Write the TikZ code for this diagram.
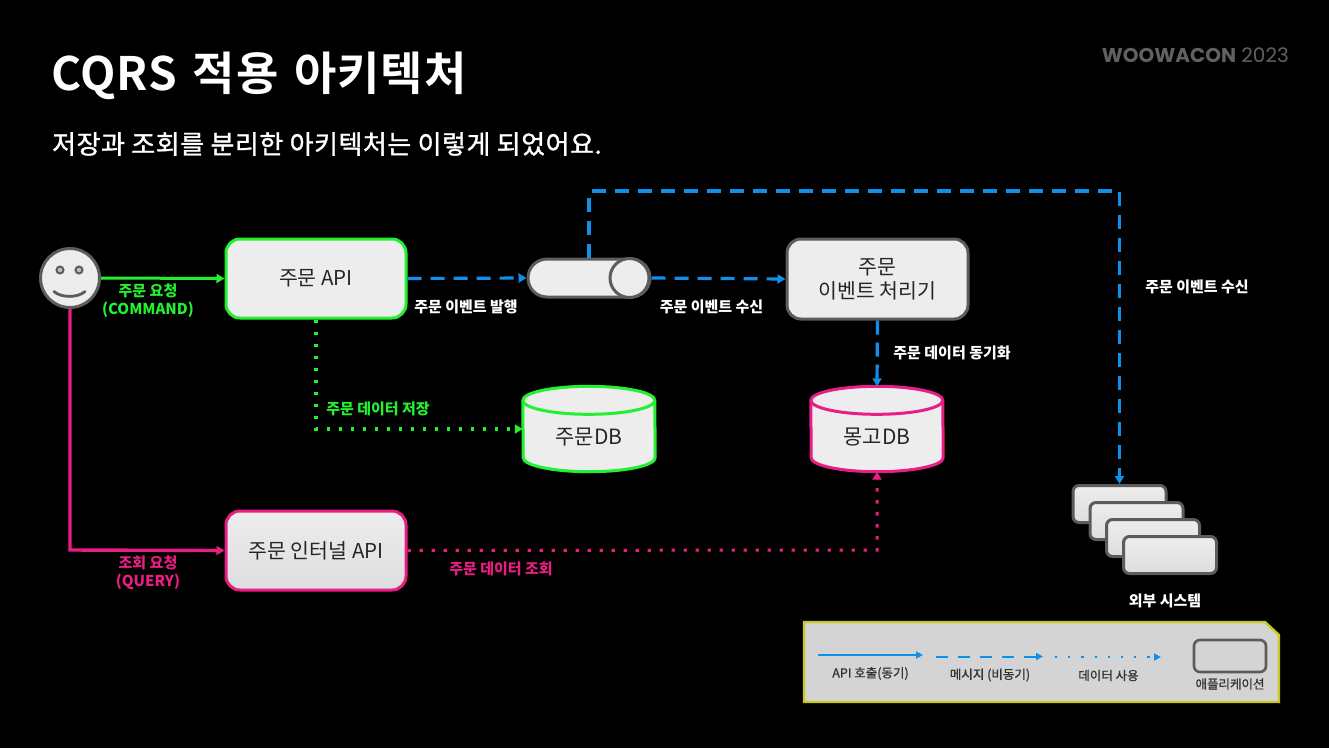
\documentclass[tikz,border=0pt]{standalone}
\usepackage{fontspec}
\setmainfont{Noto Sans CJK KR}
\newfontfamily\subfont[FakeBold=1.2,LetterSpace=2]{Noto Sans CJK KR}
\newfontfamily\legfont[FakeBold=0.8]{Noto Sans CJK KR}
\newfontfamily\titlefont[LetterSpace=2,WordSpace=1.4]{Noto Sans CJK KR Bold}
\newfontfamily\brandfont{Poppins}
\usetikzlibrary{arrows.meta,calc,shapes.misc}
\definecolor{cgreen}{HTML}{22F030}
\definecolor{cpink}{HTML}{E81E82}
\definecolor{cblue}{HTML}{1090E8}
\definecolor{cgray}{HTML}{5C5C5C}
\definecolor{cfill}{HTML}{EDEDED}
\definecolor{cyellow}{HTML}{C8C81E}
\tikzset{
  tip/.style={-{Triangle[length=8pt,width=9pt]}},
  appbox/.style={draw=#1,fill=cfill,line width=3pt,rounded corners=14pt,inner sep=0pt,align=center,font=\fontsize{20.5}{26}\selectfont,text=black!85,minimum width=180pt,minimum height=79pt},
  stackbox/.style={draw=cgray,top color=cfill,bottom color=black!13,line width=3pt,rounded corners=6pt,inner sep=0pt,minimum width=93pt,minimum height=37pt},
  dbspot/.style={inner sep=0pt,minimum width=132pt,minimum height=85pt,font=\fontsize{21}{26}\selectfont,text=black!85},
  lbl/.style={inner sep=0pt,align=center,text=white,font=\bfseries\fontsize{15}{18}\selectfont},
  leglbl/.style={inner sep=0pt,text=black!80,font=\legfont\fontsize{12.5}{14}\selectfont},
  dashline/.style={line width=3.2pt,dash pattern=on 14pt off 9pt},
  dotline/.style={line width=3.4pt,dash pattern=on 3.4pt off 8.6pt},
}
\newcommand{\dbcyl}[2]{%
  \path[fill=cfill,draw=#2,line width=3pt] ([yshift=-14pt]#1.north west) arc[start angle=180,end angle=0,x radius=66pt,y radius=14pt]
    -- ([yshift=14pt]#1.south east) arc[start angle=0,end angle=-180,x radius=66pt,y radius=14pt] -- cycle;
  \draw[#2,line width=3pt] ([yshift=-14pt]#1.north west) arc[start angle=180,end angle=360,x radius=66pt,y radius=14pt];
}
\begin{document}
\begin{tikzpicture}[x=1pt,y=-1pt]
\fill[black] (0,0) rectangle (1329,748);
\useasboundingbox (0,0) rectangle (1329,748);

\node[inner sep=0pt,anchor=west,text=white,font=\titlefont\fontsize{46}{50}\selectfont] (title) at (51,76) {CQRS 적용 아키텍처};
\node[inner sep=0pt,anchor=west,text=white,font=\subfont\fontsize{26}{30}\selectfont] (subtitle) at (52,144) {저장과 조회를 분리한 아키텍처는 이렇게 되었어요.};
\node[inner sep=0pt,anchor=east,text=black!62,font=\brandfont\fontsize{20}{24}\selectfont] (brand) at (1289,55) {\textbf{WOOWACON} 2023};

% actor
\node[circle,draw=cgray,fill=cfill,line width=3pt,minimum size=59pt,inner sep=0pt] (user) at (70,278) {};
\node[circle,draw=cgray,fill=black!25,line width=2pt,minimum size=7pt,inner sep=0pt] (eyeL) at (60,270) {};
\node[circle,draw=cgray,fill=black!25,line width=2pt,minimum size=7pt,inner sep=0pt] (eyeR) at (79,270) {};
\coordinate (smileL) at (54,291.5);
\coordinate (smileC1) at (61,298);
\coordinate (smileC2) at (78,298);
\coordinate (smileR) at (85,291.5);
\draw[cgray,line width=2.8pt,line cap=round] (smileL) .. controls (smileC1) and (smileC2) .. (smileR);

% boxes
\node[appbox=cgreen] (api) at (316,278.5) {\raisebox{-2pt}{주문 API}};
\node[appbox=cgray,minimum width=181pt,minimum height=80pt] (proc) at (877.5,279) {주문\\[-2pt]이벤트 처리기};
\node[appbox=cpink,top color=cfill,bottom color=black!13] (internal) at (316,550.5) {\raisebox{-1pt}{주문 인터널 API}};

% queue
\node[rounded rectangle,draw=cgray,fill=cfill,line width=3pt,minimum width=122pt,minimum height=38pt,inner sep=0pt] (queue) at (589,278) {};
\node[circle,draw=cgray,fill=cfill,line width=3pt,minimum size=39pt,inner sep=0pt] (qcap) at (629.5,278) {};

% databases
\node[dbspot] (db1) at (589,429) {};
\dbcyl{db1}{cgreen}
\node[dbspot] at (589,437) {주문DB};
\node[dbspot] (db2) at (877,429) {};
\dbcyl{db2}{cpink}
\node[dbspot] at (877,437) {몽고DB};

% external systems
\node[stackbox] (s1) at (1119.5,504) {};
\node[stackbox] (s2) at (1136.5,521) {};
\node[stackbox] (s3) at (1153,538) {};
\node[stackbox] (s4) at (1170,555) {};

% connectors
\draw[cgreen,line width=3pt,tip] (user.east) -- (api.west);
\coordinate (qelbow) at (70,550);
\draw[cpink,line width=3.4pt,tip] (user.south) -- (qelbow) -- (internal.west);
\draw[cblue,dashline,tip] (api.east) -- (queue.west);
\draw[cblue,dashline,tip] (queue.east) -- (proc.west);
\coordinate (topright) at (1119.5,191);
\draw[cblue,dashline,tip] (queue.north) |- (topright) -- (s1.north);
\draw[cblue,line width=3.2pt,dash pattern=on 14pt off 8pt,tip] (proc.south) -- (db2.north);
\coordinate (gelbow) at (316,429);
\draw[cgreen,dotline,tip] (api.south) -- (gelbow) -- (db1.west);
\coordinate (pelbow) at (877,550);
\draw[cpink,dotline,line width=3pt,tip] (internal.east) -- (pelbow) -- (db2.south);

% labels
\node[lbl,text=cgreen] (lb1) at (148,301) {주문 요청\\(COMMAND)};
\node[lbl,text=cpink] (lb2) at (148,573) {조회 요청\\(QUERY)};
\node[lbl] (lb3) at (466,306.7) {주문 이벤트 발행};
\node[lbl] (lb4) at (711.5,306.7) {주문 이벤트 수신};
\node[lbl] (lb5) at (952,352.7) {주문 데이터 동기화};
\node[lbl] (lb6) at (1197,286.7) {주문 이벤트 수신};
\node[lbl,text=cgreen] (lb7) at (378,408.7) {주문 데이터 저장};
\node[lbl,text=cpink] (lb8) at (501,568.7) {주문 데이터 조회};
\node[lbl] (lb9) at (1165,600.7) {외부 시스템};

% legend
\coordinate (lgA) at (804,622);
\coordinate (lgB) at (1265,622);
\coordinate (lgC) at (1279,635);
\coordinate (lgD) at (1279,702);
\coordinate (lgE) at (804,702);
\fill[black!17,draw=cyellow,line width=2.4pt] (lgA) -- (lgB) -- (lgC) -- (lgD) -- (lgE) -- cycle;
\coordinate (l1a) at (818,655); \coordinate (l1b) at (923,655);
\coordinate (l2a) at (936,656.5); \coordinate (l2b) at (1043,656.5);
\coordinate (l3a) at (1055,657); \coordinate (l3b) at (1161,657);
\draw[cblue,line width=2pt,-{Triangle[length=7pt,width=7pt]}] (l1a) -- (l1b);
\draw[cblue,line width=2pt,dash pattern=on 12pt off 10pt,-{Triangle[length=7pt,width=7pt]}] (l2a) -- (l2b);
\draw[cblue,line width=2.2pt,dash pattern=on 2.2pt off 11pt,-{Triangle[length=7pt,width=7pt]}] (l3a) -- (l3b);
\node[draw=cgray,line width=2.6pt,rounded corners=6pt,minimum width=72pt,minimum height=32pt,inner sep=0pt] (legapp) at (1230,656) {};
\node[leglbl] (t1) at (870.5,673.5) {API 호출(동기)};
\node[leglbl] (t2) at (990,675) {메시지 (비동기)};
\node[leglbl] (t3) at (1108.5,675.5) {데이터 사용};
\node[leglbl] (t4) at (1230,684) {애플리케이션};
\end{tikzpicture}
\end{document}
